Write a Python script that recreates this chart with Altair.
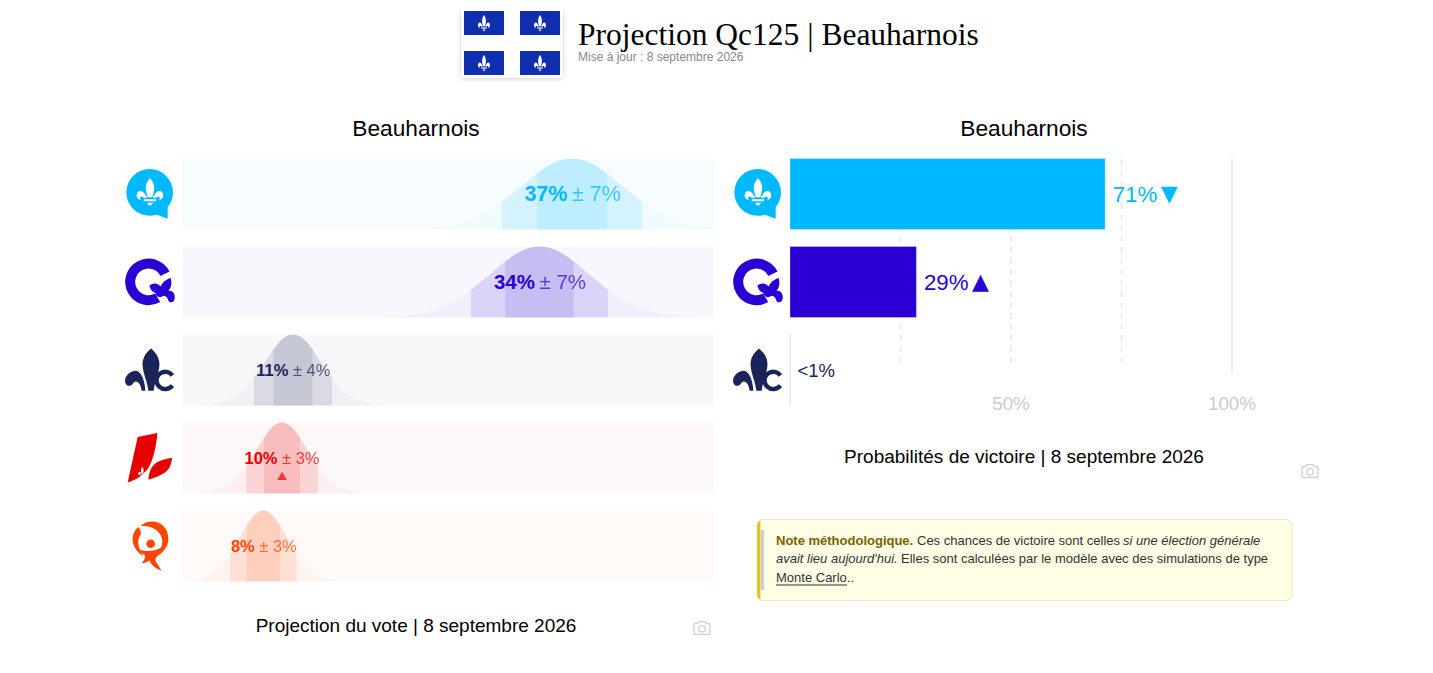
import urllib.parse
import altair as alt
import pandas as pd

# ---------- values ----------
parties = ["PQ", "CAQ", "PCQ", "PLQ", "QS"]
vote_labels = ["37%", "34%", "11%", "10%", "8%"]
margin_labels = ["± 7%", "± 7%", "± 4%", "± 3%", "± 3%"]
vote_centres = [36.65, 33.60, 10.43, 9.40, 7.64]
label_anchors = [36.65, 33.60, 10.43, 9.40, 7.26]

curve_x_pq = [20.86, 23.49, 26.12, 28.10, 30.07, 31.72, 33.36, 35.00, 36.65, 38.30, 39.94, 41.59, 43.23, 45.20, 47.18, 49.81, 50.00]
curve_x_caq = [18.14, 20.72, 23.30, 25.23, 27.16, 28.77, 30.38, 31.99, 33.60, 35.21, 36.82, 38.43, 40.04, 41.97, 43.90, 46.48, 49.06]
curve_x_pcq = [1.62, 3.09, 4.56, 5.66, 6.76, 7.68, 8.60, 9.51, 10.43, 11.35, 12.27, 13.18, 14.10, 15.20, 16.30, 17.77, 19.24]
curve_x_plq = [1.34, 2.68, 4.02, 5.03, 6.04, 6.88, 7.72, 8.56, 9.40, 10.24, 11.08, 11.92, 12.76, 13.77, 14.78, 16.12, 17.46]
curve_x_qs = [0.13, 1.38, 2.63, 3.57, 4.51, 5.29, 6.07, 6.86, 7.64, 8.42, 9.21, 9.99, 10.77, 11.71, 12.65, 13.90, 15.15]
curve_height = [0.004, 0.023, 0.090, 0.204, 0.391, 0.589, 0.790, 0.943, 1.0, 0.943, 0.790, 0.589, 0.391, 0.204, 0.090, 0.023, 0.004]
curve_height_pq = [0.004, 0.023, 0.090, 0.204, 0.391, 0.589, 0.790, 0.943, 1.0, 0.943, 0.790, 0.589, 0.391, 0.204, 0.090, 0.023, 0.020]
curve_band = [0, 0, 0, 0, 1, 1, 2, 2, 2, 2, 2, 1, 1, 0, 0, 0, 0]

win_parties = ["PQ", "CAQ", "PCQ"]
win_prob = [71.3, 28.6, 0.0]
win_labels = ["71%", "29%", "<1%"]
win_arrows = ["▼", "▲", ""]
grid_dashed = [25, 50, 75]
grid_solid = [100]
tick_values = [50, 100]
tick_labels = ["50%", "100%"]

page_title = "Projection Qc125 | Beauharnois"
page_subtitle = "Mise à jour : 8 septembre 2026"
panel_title = "Beauharnois"
left_caption = "Projection du vote | 8 septembre 2026"
right_caption = "Probabilités de victoire | 8 septembre 2026"

# ---------- styles ----------
COL = {"PQ": "#00b9ff", "CAQ": "#2a00d4", "PCQ": "#1a2456", "PLQ": "#e60000", "QS": "#ff4500"}
SIZE = {"PQ": 21.5, "CAQ": 20.5, "PCQ": 16.5, "PLQ": 16.5, "QS": 16.5}
SANS = "Liberation Sans"
VOTE_X = alt.Scale(domain=[0, 50], range=[174, 706], nice=False, zero=False)
PROB_X = alt.Scale(domain=[0, 100], range=[782, 1224], nice=False, zero=False)
ROW_Y = alt.Scale(domain=[0, 5], range=[573.5, 133.5], nice=False, zero=False)
H = 71 / 88


def one():
    return alt.Chart(pd.DataFrame({"a": [0]}))


def text_at(s, x, y, **kw):
    kw.setdefault("font", SANS)
    kw.setdefault("baseline", "middle")
    return alt.Chart(pd.DataFrame({"t": [s]})).mark_text(**kw).encode(
        x=alt.value(x - 8), y=alt.value(y - 8), text="t:N")


def box(x0, x1, y0, y1, **kw):
    return one().mark_rect(**kw).encode(
        x=alt.value(x0 - 8), x2=alt.value(x1 - 8), y=alt.value(y0 - 8), y2=alt.value(y1 - 8))


def uri(svg):
    return "data:image/svg+xml;charset=utf-8," + urllib.parse.quote(svg)


FLEUR = ('<path d="M12 0C16 4 17 7 14 14L10 14C7 7 8 4 12 0Z"/>'
         '<path d="M9 13.5C7 11 5.5 9.5 3.5 9.5C1 9.5 0 11.5 0 13C0 15 2 16 3.5 16C3 15 3 13.5 4.5 13.5C5.5 13.5 6 15 9 14.5Z"/>'
         '<path d="M15 13.5C17 11 18.5 9.5 20.5 9.5C23 9.5 24 11.5 24 13C24 15 22 16 20.5 16C21 15 21 13.5 19.5 13.5C18.5 13.5 18 15 15 14.5Z"/>'
         '<path d="M6.5 15.5H17.5V17H6.5Z"/><path d="M9 18H15L12 20.5Z"/>')


def logo(vb, body):
    return uri(f'<svg xmlns="http://www.w3.org/2000/svg" width="160" height="160" viewBox="{vb}">{body}</svg>')


LOGOS = {
    "PQ": logo("25 52.75 160 160",
               f'<circle cx="104" cy="128" r="70" fill="#00b9ff"/><path d="M118 192L158 207L158 170Z" fill="#00b9ff"/>'
               f'<g transform="translate(65 85) scale(3.33 4.1)" fill="#fff">{FLEUR}</g>'),
    "CAQ": logo("25 316.75 160 160",
                '<path d="M150 372A55 55 0 1 0 128 444" fill="none" stroke="#2a00d4" stroke-width="30"/>'
                '<path d="M103 408C115 398 128 400 137 410C142 398 152 390 166 384C172 398 170 412 160 424'
                'C172 420 181 432 179 447C177 459 164 461 160 452C158 444 152 438 146 438C136 446 122 442 122 430'
                'C114 428 106 420 103 408Z" fill="#2a00d4"/>'),
    "PCQ": logo("25 580.75 160 160",
                '<g fill="#1a2456"><path d="M108 596C122 608 136 625 133 650C131 672 118 700 116 723L100 723'
                'C98 700 85 672 83 650C80 625 94 608 108 596Z"/>'
                '<path d="M91 723L80 723C78 708 72 695 62 695C55 696 53 706 45 708C36 710 30 702 30 692C31 676 48 663 62 663'
                'C80 664 90 695 91 723Z"/></g>'
                '<path d="M172 677A26 26 0 1 0 172 707" fill="none" stroke="#1a2456" stroke-width="13"/>'),
    "PLQ": logo("25 64.75 160 160",
                '<g fill="#e60000"><path d="M68 82L127 70C125 105 115 150 100 175C85 198 60 212 38 218Z"/>'
                '<path d="M100 210C102 185 110 168 125 158C140 150 155 147 171 144C170 160 165 178 150 188C135 198 118 204 100 210Z"/></g>'
                f'<g transform="translate(70 170) scale(1.0 1.7)" fill="#fff">{FLEUR}</g>'),
    "QS": logo("25 328.75 160 160",
               '<g fill="#ff4500"><circle cx="107" cy="402" r="13"/>'
               '<path d="M76 350C100 322 162 332 160 390C159 415 140 432 122 442C138 420 148 400 138 378C128 358 100 345 76 350Z"/>'
               '<path d="M70 352C46 372 44 412 85 440C72 420 62 395 78 372C78 364 74 358 70 352Z"/>'
               '<path d="M74 420C90 426 124 426 140 412C130 438 118 445 122 455C130 465 135 475 140 483'
               'C125 478 108 465 103 452C95 458 90 460 80 460C90 450 92 440 88 435C80 432 76 427 74 420Z"/></g>'),
}

flags = "".join(f'<rect x="{x}" y="{y}" width="40" height="24" fill="#0f2fae"/>'
                f'<g transform="translate({x + 14} {y + 4}) scale(.5 .8)" fill="#fff">{FLEUR}</g>'
                for x in (12, 68) for y in (11, 51))
FLAG = uri('<svg xmlns="http://www.w3.org/2000/svg" width="120" height="90" viewBox="0 0 120 90">'
           '<defs><filter id="s" x="-20%" y="-20%" width="140%" height="140%"><feDropShadow dx="0" dy="1" stdDeviation="2" '
           'flood-color="#000" flood-opacity=".18"/></filter></defs>'
           '<rect x="9" y="8" width="102" height="70" rx="4" fill="#fff" filter="url(#s)"/>' + flags + '</svg>')
CAMERA = uri('<svg xmlns="http://www.w3.org/2000/svg" width="18" height="15" viewBox="0 0 18 15">'
             '<path d="M1 4.2Q1 3 2.2 3H5L6 1H12L13 3H15.8Q17 3 17 4.2V12.8Q17 14 15.8 14H2.2Q1 14 1 12.8Z" '
             'fill="none" stroke="#d0d0d0" stroke-width="1.3"/><circle cx="9" cy="8.3" r="3.2" fill="none" '
             'stroke="#d0d0d0" stroke-width="1.3"/></svg>')


def image(url, x, y, w, h, yfield=None):
    return alt.Chart(pd.DataFrame({"u": [url], "row": [yfield if yfield is not None else 0.0]})).mark_image(
        width=w, height=h).encode(
        url="u:N", x=alt.value(x - 8),
        y=alt.value(y - 8) if yfield is None else alt.Y("row:Q", scale=ROW_Y, axis=None))


layers = []

# header
layers.append(image(FLAG, 512, 45, 120, 90))
layers.append(text_at(page_title, 578, 36, font="Liberation Serif", fontSize=31.5, align="left", color="#000"))
layers.append(text_at(page_subtitle, 578, 57, fontSize=12, align="left", color="#888"))

# panel headings and captions
layers.append(text_at(panel_title, 416, 128.5, fontSize=22.7, align="center", color="#000"))
layers.append(text_at(panel_title, 1024, 128.5, fontSize=22.7, align="center", color="#000"))
layers.append(text_at(left_caption, 416, 626, fontSize=19, align="center", color="#000"))
layers.append(text_at(right_caption, 1024, 457, fontSize=19, align="center", color="#000"))
layers.append(image(CAMERA, 702, 628, 18, 15))
layers.append(image(CAMERA, 1310, 471, 18, 15))

# left panel: vote distributions
curves = {"PQ": (curve_x_pq, curve_height_pq), "CAQ": (curve_x_caq, curve_height),
          "PCQ": (curve_x_pcq, curve_height), "PLQ": (curve_x_plq, curve_height), "QS": (curve_x_qs, curve_height)}
for k, p in enumerate(parties):
    c = COL[p]
    base = 4 - k
    xs, hs = curves[p]
    df = pd.DataFrame({"x": xs, "h": hs, "band": curve_band})
    df["top"] = base + df["h"] * H
    df["base"] = base

    def area(frame, op):
        return alt.Chart(frame).mark_area(interpolate="monotone", orient="vertical", color=c, opacity=op).encode(
            x=alt.X("x:Q", scale=VOTE_X, axis=None),
            y=alt.Y("top:Q", scale=ROW_Y, axis=None), y2="base:Q")

    bg = pd.DataFrame({"x0": [0.0], "x1": [50.0], "y0": [base], "y1": [base + H]})
    layers.append(alt.Chart(bg).mark_rect(color=c, opacity=0.03).encode(
        x=alt.X("x0:Q", scale=VOTE_X, axis=None), x2="x1:Q",
        y=alt.Y("y0:Q", scale=ROW_Y, axis=None), y2="y1:Q"))
    layers.append(area(df, 0.03))
    layers.append(area(df[df.band >= 1], 0.11))
    layers.append(area(df[df.band >= 2], 0.105))
    t = pd.DataFrame({"m": [label_anchors[k]], "y": [base + H / 2], "a": [vote_labels[k]], "b": [margin_labels[k]]})
    layers.append(alt.Chart(t).mark_text(font=SANS, fontWeight="bold", fontSize=SIZE[p], align="right",
                                         baseline="middle", dx=-4.5, dy=1, color=c).encode(
        x=alt.X("m:Q", scale=VOTE_X, axis=None), y=alt.Y("y:Q", scale=ROW_Y, axis=None), text="a:N"))
    layers.append(alt.Chart(t).mark_text(font=SANS, fontSize=SIZE[p], align="left", baseline="middle", dy=1,
                                         color=c, opacity=0.72).encode(
        x=alt.X("m:Q", scale=VOTE_X, axis=None), y=alt.Y("y:Q", scale=ROW_Y, axis=None), text="b:N"))
    layers.append(image(LOGOS[p], 150, 0, 53.33, 53.33, yfield=base + H / 2))

# movement marker on the PLQ row
marker = pd.DataFrame({"m": [vote_centres[3]], "y": [1 + 0.20]})
layers.append(alt.Chart(marker).mark_point(shape="triangle-up", filled=True, size=90, color="#e60000", opacity=0.7).encode(
    x=alt.X("m:Q", scale=VOTE_X, axis=None), y=alt.Y("y:Q", scale=ROW_Y, axis=None)))

# right panel: grid
layers.append(alt.Chart(pd.DataFrame({"p": grid_dashed})).mark_rule(
    color="#e6e6e6", strokeWidth=1.5, strokeDash=[6, 5]).encode(
    x=alt.X("p:Q", scale=PROB_X, axis=None), y=alt.value(151), y2=alt.value(360)))
layers.append(alt.Chart(pd.DataFrame({"p": grid_solid})).mark_rule(color="#e8e8e8", strokeWidth=1.5).encode(
    x=alt.X("p:Q", scale=PROB_X, axis=None), y=alt.value(151), y2=alt.value(365)))
layers.append(alt.Chart(pd.DataFrame({"p": [0]})).mark_rule(color="#e4e4ee", strokeWidth=1.5).encode(
    x=alt.X("p:Q", scale=PROB_X, axis=None), y=alt.value(326), y2=alt.value(397.5)))
layers.append(alt.Chart(pd.DataFrame({"p": tick_values, "t": tick_labels})).mark_text(
    font=SANS, fontSize=18.8, color="#ccc", align="center", baseline="middle").encode(
    x=alt.X("p:Q", scale=PROB_X, axis=None), y=alt.value(396), text="t:N"))

# right panel: bars
for k, p in enumerate(win_parties):
    c = COL[p]
    base = 4 - k
    d = pd.DataFrame({"p0": [0.0], "p": [win_prob[k]], "y0": [base], "y1": [base + H], "ym": [base + H / 2],
                      "t": [win_labels[k]], "ar": [win_arrows[k]]})
    if win_prob[k] > 1:
        layers.append(alt.Chart(d).mark_rect(color=c, stroke="#ffffff", strokeOpacity=0.3, strokeWidth=1).encode(
            x=alt.X("p0:Q", scale=PROB_X, axis=None), x2="p:Q",
            y=alt.Y("y0:Q", scale=ROW_Y, axis=None), y2="y1:Q"))
    layers.append(alt.Chart(d).mark_text(font=SANS, fontSize=22.3 if win_prob[k] > 1 else 18.5, color=c, align="left",
                                         baseline="middle", dx=7.5, dy=1).encode(
        x=alt.X("p:Q", scale=PROB_X, axis=None), y=alt.Y("ym:Q", scale=ROW_Y, axis=None), text="t:N"))
    if win_arrows[k]:
        layers.append(alt.Chart(d).mark_text(font="DejaVu Sans", fontSize=22, color=c, align="center",
                                             baseline="middle", dx=64).encode(
            x=alt.X("p:Q", scale=PROB_X, axis=None), y=alt.Y("ym:Q", scale=ROW_Y, axis=None), text="ar:N"))
    layers.append(image(LOGOS[p], 758, 0, 53.33, 53.33, yfield=base + H / 2))

# note box
layers.append(box(757, 1292, 519.5, 600.5, color="#e8c31c", cornerRadius=6))
layers.append(box(760.5, 1292, 519.5, 600.5, fill="#fffde3", stroke="#e9e6c4", strokeWidth=1,
                  cornerRadiusTopRight=6, cornerRadiusBottomRight=6))
layers.append(box(760.5, 764, 530, 590, color="#cfcfc6"))
NOTE = dict(fontSize=13, align="left", color="#333")
layers.append(text_at("Note méthodologique.", 776, 540.5, fontSize=13, align="left", fontWeight="bold", color="#7a6300"))
layers.append(text_at("Ces chances de victoire sont celles", 917, 540.5, **NOTE))
layers.append(text_at("si une élection générale", 1123, 540.5, fontStyle="italic", **NOTE))
layers.append(text_at("avait lieu aujourd'hui.", 776, 559, fontStyle="italic", **NOTE))
layers.append(text_at("Elles sont calculées par le modèle avec des simulations de type", 901, 559, **NOTE))
layers.append(text_at("Monte Carlo", 776, 577.5, **NOTE))
layers.append(text_at("..", 847, 577.5, **NOTE))
layers.append(one().mark_rule(color="#333", strokeWidth=1).encode(
    x=alt.value(768), x2=alt.value(839), y=alt.value(577)))

chart = alt.layer(*layers).resolve_scale(x="independent").properties(
    width=1400, height=640, padding=0, autosize=alt.AutoSizeParams(type="none")
).configure_view(stroke=None)

chart.save("out.html", embed_options={"renderer": "svg", "actions": False})
